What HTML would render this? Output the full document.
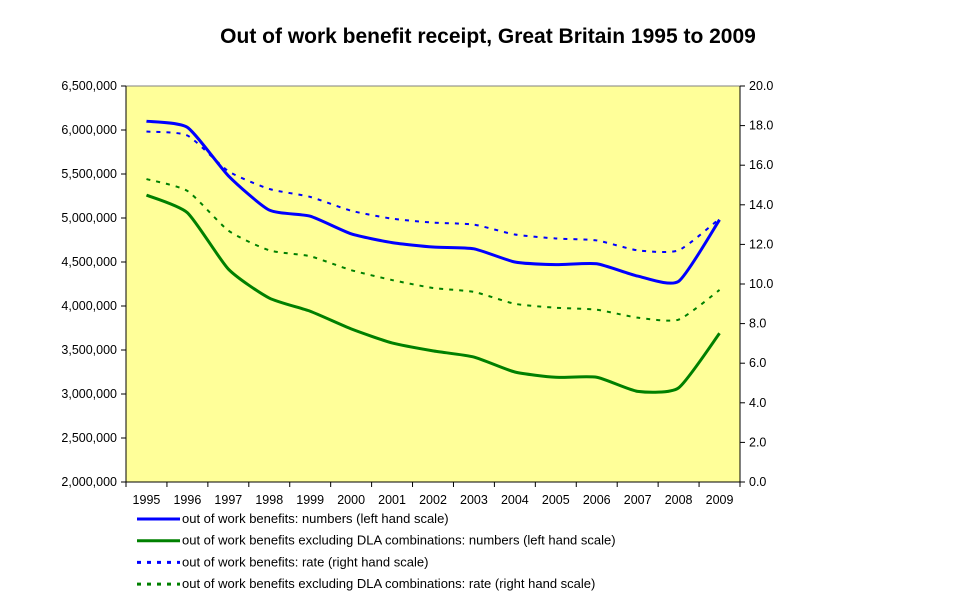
<!DOCTYPE html>
<html><head><meta charset="utf-8"><style>
html,body{margin:0;padding:0;background:#fff;}
svg{display:block;font-family:"Liberation Sans",Arial,sans-serif;}
</style></head><body>
<svg id="chart" width="977" height="600">
<text x="488" y="43" text-anchor="middle" font-size="21" font-weight="bold">Out of work benefit receipt, Great Britain 1995 to 2009</text>
<rect x="126" y="86" width="614" height="396" fill="#ffff99" stroke="#808080"/>
<g id="axes"></g><g id="series"></g><g id="legend"></g>
</svg>
<script>
const years=["1995","1996","1997","1998","1999","2000","2001","2002","2003","2004","2005","2006","2007","2008","2009"];
const numbersAll=[6100000,6030000,5480000,5090000,5020000,4820000,4720000,4670000,4650000,4500000,4470000,4480000,4340000,4280000,4980000];
const numbersExDLA=[5260000,5060000,4420000,4090000,3940000,3740000,3580000,3490000,3420000,3250000,3190000,3190000,3030000,3070000,3690000];
const rateAll=[17.7,17.5,15.7,14.8,14.4,13.7,13.3,13.1,13.0,12.5,12.3,12.2,11.7,11.7,13.3];
const rateExDLA=[15.3,14.7,12.7,11.7,11.4,10.7,10.2,9.8,9.6,9.0,8.8,8.7,8.3,8.2,9.7];
const leftTicks=[2000000,2500000,3000000,3500000,4000000,4500000,5000000,5500000,6000000,6500000];
const rightTicks=[0,2,4,6,8,10,12,14,16,18,20];
const legendLabels=["out of work benefits: numbers (left hand scale)","out of work benefits excluding DLA combinations: numbers (left hand scale)","out of work benefits: rate (right hand scale)","out of work benefits excluding DLA combinations: rate (right hand scale)"];

const NS="http://www.w3.org/2000/svg";
const X0=126,X1=740,Y0=86,Y1=482;
const bw=(X1-X0)/years.length;
const xS=i=>X0+bw*(i+0.5);
const yL=v=>Y1-(v-2000000)/4500000*(Y1-Y0);
const yR=v=>Y1-v/20*(Y1-Y0);
function mk(t,a,p){const e=document.createElementNS(NS,t);for(const k in a)e.setAttribute(k,a[k]);p.appendChild(e);return e;}
const ax=document.getElementById('axes');
const l1=mk('line',{x1:X0,y1:Y0,x2:X0,y2:Y1,stroke:'#000'},ax);


const l2=mk('line',{x1:X1,y1:Y0,x2:X1,y2:Y1,stroke:'#000'},ax);


const l3=mk('line',{x1:X0,y1:Y1,x2:X1,y2:Y1,stroke:'#000'},ax);


leftTicks.forEach(v=>{const y=yL(v);
 mk('line',{x1:X0-5,y1:y,x2:X0,y2:y,stroke:'#000'},ax);
 const t=mk('text',{x:X0-9,y:y+4,'text-anchor':'end','font-size':12.5},ax);
 t.textContent=v.toLocaleString('en-US');
 
 });
rightTicks.forEach(v=>{const y=yR(v);
 mk('line',{x1:X1,y1:y,x2:X1+5,y2:y,stroke:'#000'},ax);
 const t=mk('text',{x:X1+9,y:y+4,'font-size':12.5},ax);
 t.textContent=v.toFixed(1);
 
 });
for(let i=0;i<=years.length;i++){const x=X0+bw*i;mk('line',{x1:x,y1:Y1,x2:x,y2:Y1+5,stroke:'#000'},ax);}
years.forEach((yr,i)=>{const t=mk('text',{x:xS(i),y:Y1+22,'text-anchor':'middle','font-size':12.5},ax);
 t.textContent=yr;
 
 });
function smooth(pts){let d=`M${pts[0][0]},${pts[0][1]}`;
 for(let i=0;i<pts.length-1;i++){const p0=pts[i-1]||pts[i],p1=pts[i],p2=pts[i+1],p3=pts[i+2]||p2;
  const c1=[p1[0]+(p2[0]-p0[0])/10,p1[1]+(p2[1]-p0[1])/10],c2=[p2[0]-(p3[0]-p1[0])/10,p2[1]-(p3[1]-p1[1])/10];
  d+=` C${c1[0]},${c1[1]} ${c2[0]},${c2[1]} ${p2[0]},${p2[1]}`;}return d;}
const sg=document.getElementById('series');
const defs=[[numbersAll,yL,'#0000ff',null,'series-numbers-all'],[numbersExDLA,yL,'#008000',null,'series-numbers-ex-dla'],[rateAll,yR,'#0000ff','4 6','series-rate-all'],[rateExDLA,yR,'#008000','4 6','series-rate-ex-dla']];
defs.forEach(([arr,ys,c,dash,name])=>{const a={d:smooth(arr.map((v,i)=>[xS(i),ys(v)])),fill:'none',stroke:c,'stroke-width':dash?2:3};
 if(dash)a['stroke-dasharray']=dash;const p=mk('path',a,sg);
 
 });
const lg=document.getElementById('legend');
legendLabels.forEach((lab,i)=>{const y=519+i*21.7;const d=defs[i];
 const a={x1:137,y1:y,x2:180,y2:y,stroke:d[2],'stroke-width':3};if(d[3])a['stroke-dasharray']='4 6';
 mk('line',a,lg);
 const t=mk('text',{x:182,y:y+4,'font-size':13},lg);t.textContent=lab;
 
 });
</script>
</body></html>
